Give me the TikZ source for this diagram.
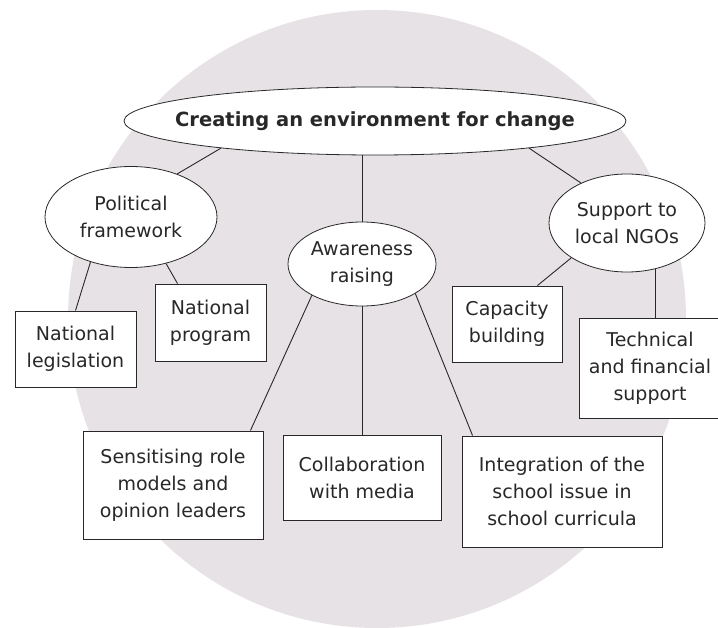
\documentclass[tikz,border=0pt]{standalone}
\usepackage{fontspec}
\setmainfont{DejaVu Sans}
\usetikzlibrary{shapes.geometric}
\definecolor{discgray}{RGB}{231,226,230}
\definecolor{inkgray}{RGB}{40,40,40}
\tikzset{
	bubble/.style={ellipse, draw=inkgray, fill=white, line width=0.8pt, inner sep=0pt, align=center, text=inkgray, font=\fontsize{19}{27}\selectfont},
	leaf/.style={rectangle, draw=inkgray, fill=white, line width=0.9pt, inner sep=0pt, align=center, text=inkgray, font=\fontsize{19}{27}\selectfont},
	link/.style={draw=inkgray, line width=0.9pt},
	goaltext/.style={text=inkgray, inner sep=0pt, font=\bfseries\fontsize{19.5}{24}\selectfont}
}

\begin{document}
\begin{tikzpicture}[x=1pt, y=-1pt]
	%%%%% START %%%%%
	\useasboundingbox (0,0) rectangle (718,628);
	\fill[discgray] (377,319) circle (309pt);
	
	\node[bubble, minimum width=502pt, minimum height=68pt, label={[goaltext]center:Creating an environment for change}] (goal) at (375,121) {};
	
	\node[bubble, minimum width=172pt, minimum height=101pt] (polit) at (131,217) {Political\\framework};
	\node[bubble, minimum width=148pt, minimum height=84pt] (aware) at (362,264) {Awareness\\raising};
	\node[bubble, minimum width=156pt, minimum height=98pt] (support) at (627,223) {Support to\\local NGOs};
	
	\node[leaf, minimum width=121pt, minimum height=76pt] (legis) at (75.5,349) {National\\legislation};
	\node[leaf, minimum width=111pt, minimum height=77pt] (natprog) at (210.5,322.5) {National\\program};
	\node[leaf, minimum width=110pt, minimum height=76pt] (capac) at (507,324) {Capacity\\building};
	\node[leaf, minimum width=142pt, minimum height=100pt] (techfin) at (650,368) {Technical\\and financial\\support};
	
	\node[leaf, minimum width=180pt, minimum height=108pt] (sensit) at (173,485) {Sensitising role\\models and\\opinion leaders};
	\node[leaf, minimum width=158pt, minimum height=85pt] (collab) at (362,477.5) {Collaboration\\with media};
	\node[leaf, minimum width=200pt, minimum height=111pt] (integr) at (562,491.5) {Integration of the\\school issue in\\school curricula};
	
	\draw[link] (goal.190) -- (polit.43);
	\draw[link] (goal.350) -- (support.139);
	\draw[link] (aware.north) -- (aware.north |- goal.south);
	
	\draw[link] (polit.228) -- (legis.north);
	\draw[link] (polit.307) -- ([xshift=-33pt]natprog.north);
	
	\draw[link] (aware.212) -- ([xshift=-13pt]sensit.north east);
	\draw[link] (aware.south) -- (collab.north);
	\draw[link] (aware.331) -- ([xshift=11pt]integr.north west);
	
	\draw[link] (support.212) -- ([xshift=-25pt]capac.north east);
	\draw[link] (support.302) -- (support.302 |- techfin.north);
	%%%%% END %%%%%
\end{tikzpicture}
\end{document}
